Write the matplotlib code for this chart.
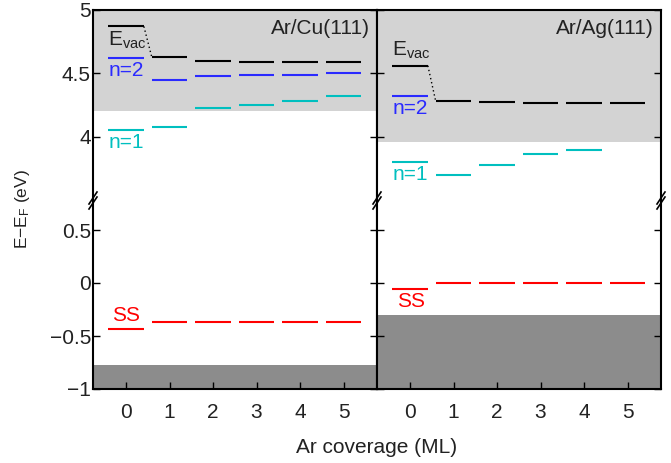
import matplotlib
matplotlib.use("Agg")
import matplotlib.pyplot as plt
from matplotlib.lines import Line2D

plt.rcParams['font.family'] = ['Liberation Sans', 'DejaVu Sans']
plt.rcParams['mathtext.fontset'] = 'custom'
plt.rcParams['mathtext.rm'] = 'Liberation Sans'
plt.rcParams['mathtext.it'] = 'Liberation Sans'
plt.rcParams['axes.unicode_minus'] = True

# ---------------- data ----------------
coverage = [0, 1, 2, 3, 4, 5]
cu_evac = [4.87, 4.63, 4.60, 4.59, 4.59, 4.59]
cu_n2 = [4.62, 4.45, 4.48, 4.485, 4.49, 4.50]
cu_n1 = [4.05, 4.08, 4.23, 4.25, 4.28, 4.32]
cu_ss = [-0.43, -0.37, -0.37, -0.37, -0.37, -0.37]
cu_gap = [4.20, 5.0]
cu_bulk = [-1.0, -0.77]

ag_evac = [4.56, 4.28, 4.275, 4.265, 4.265, 4.265]
ag_n2_cov = [0]
ag_n2 = [4.32]
ag_n1_cov = [0, 1, 2, 3, 4]
ag_n1 = [3.80, 3.70, 3.78, 3.86, 3.895]
ag_ss = [-0.06, 0.0, 0.0, 0.0, 0.0, 0.0]
ag_gap = [3.96, 5.0]
ag_bulk = [-1.0, -0.30]

top_ticks = [4, 4.5, 5]
top_labels = ['4', '4.5', '5']
bot_ticks = [-1, -0.5, 0, 0.5]
bot_labels = ['\u22121', '\u22120.5', '0', '0.5']
x_labels = ['0', '1', '2', '3', '4', '5']

C_EVAC = 'black'
C_N2 = '#2a2aff'
C_N1 = '#00bfbf'
C_SS = '#ff0000'
C_GAP = '#d3d3d3'
C_BULK = '#8c8c8c'
TXT = '#222222'

W, H = 671, 463
fig = plt.figure(figsize=(W / 100, H / 100), dpi=100)

def fx(px):
    return px / W

def fy(py):
    return 1 - py / H

x0L, x1L, x1R = 93, 377, 661
ytop, ybrk, ybot = 10, 201, 389
XLIM = (-0.76, 5.77)
TOP_LIM = (5 - (ybrk - ytop) / 126.7, 5.0)
BOT_LIM = (-1.0, -1.0 + (ybot - ybrk) / 106.0)
HW = 0.41
FS = 15

def make_axes(xa, xb):
    at = fig.add_axes([fx(xa), fy(ybrk), fx(xb - xa), (ybrk - ytop) / H])
    ab = fig.add_axes([fx(xa), fy(ybot), fx(xb - xa), (ybot - ybrk) / H])
    for a in (at, ab):
        a.set_xlim(*XLIM)
        for s in a.spines.values():
            s.set_linewidth(1.5)
        a.tick_params(direction='in', length=5, width=1.0, labelsize=FS,
                      colors='black', labelcolor=TXT, right=True, left=True)
        a.tick_params(axis='y', pad=1.5)
    at.set_ylim(*TOP_LIM)
    ab.set_ylim(*BOT_LIM)
    at.spines['bottom'].set_visible(False)
    ab.spines['top'].set_visible(False)
    at.tick_params(bottom=False, labelbottom=False, top=False)
    ab.tick_params(axis='x', top=False, pad=10)
    at.set_xticks(coverage)
    ab.set_xticks(coverage)
    ab.set_xticklabels(x_labels)
    at.set_yticks(top_ticks)
    ab.set_yticks(bot_ticks)
    return at, ab

def levels(ax, xs, ys, color):
    xs = list(xs)
    ax.hlines(ys, [x - HW for x in xs], [x + HW for x in xs], colors=color, lw=1.5)

def connector(ax, ys):
    ax.plot([coverage[0] + HW, coverage[1] - HW], [ys[0], ys[1]], color='black',
            lw=1.0, ls=(0, (1, 2)))

# ----- left: Ar/Cu(111)
atL, abL = make_axes(x0L, x1L)
atL.axhspan(cu_gap[0], cu_gap[1], color=C_GAP, lw=0, zorder=0)
abL.axhspan(cu_bulk[0], cu_bulk[1], color=C_BULK, lw=0, zorder=0)
levels(atL, coverage, cu_evac, C_EVAC)
levels(atL, coverage, cu_n2, C_N2)
levels(atL, coverage, cu_n1, C_N1)
levels(abL, coverage, cu_ss, C_SS)
connector(atL, cu_evac)
atL.set_yticklabels(top_labels)
abL.set_yticklabels(bot_labels)
atL.tick_params(labelright=False)
abL.tick_params(labelright=False)
atL.text(-0.41, cu_evac[0] - 0.025, 'E$_{\\rm vac}$', color=TXT, fontsize=FS, va='top', ha='left')
atL.text(-0.41, cu_n2[0] - 0.02, 'n=2', color=C_N2, fontsize=FS, va='top', ha='left')
atL.text(-0.41, cu_n1[0] - 0.02, 'n=1', color=C_N1, fontsize=FS, va='top', ha='left')
abL.text(-0.32, cu_ss[0] + 0.035, 'SS', color=C_SS, fontsize=FS, va='bottom', ha='left')
atL.text(0.975, 0.955, 'Ar/Cu(111)', transform=atL.transAxes, ha='right', va='top',
         fontsize=FS, color=TXT)

# ----- right: Ar/Ag(111)
atR, abR = make_axes(x1L, x1R)
atR.axhspan(ag_gap[0], ag_gap[1], color=C_GAP, lw=0, zorder=0)
abR.axhspan(ag_bulk[0], ag_bulk[1], color=C_BULK, lw=0, zorder=0)
levels(atR, coverage, ag_evac, C_EVAC)
levels(atR, ag_n2_cov, ag_n2, C_N2)
levels(atR, ag_n1_cov, ag_n1, C_N1)
levels(abR, coverage, ag_ss, C_SS)
connector(atR, ag_evac)
atR.tick_params(labelleft=False, labelright=False)
abR.tick_params(labelleft=False, labelright=False)
atR.text(-0.41, ag_evac[0] + 0.035, 'E$_{\\rm vac}$', color=TXT, fontsize=FS, va='bottom', ha='left')
atR.text(-0.41, ag_n2[0] - 0.02, 'n=2', color=C_N2, fontsize=FS, va='top', ha='left')
atR.text(-0.41, ag_n1[0] - 0.02, 'n=1', color=C_N1, fontsize=FS, va='top', ha='left')
abR.text(-0.3, ag_ss[0] - 0.025, 'SS', color=C_SS, fontsize=FS, va='top', ha='left')
atR.text(0.975, 0.955, 'Ar/Ag(111)', transform=atR.transAxes, ha='right', va='top',
         fontsize=FS, color=TXT)

# ----- axis break marks
for xp in (x0L, x1L, x1R):
    for dy in (-3, 2):
        fig.add_artist(Line2D([fx(xp - 4), fx(xp + 4)],
                              [fy(ybrk + dy + 6), fy(ybrk + dy - 6)],
                              color='black', lw=1.2))

# ----- axis labels
fig.text(fx(377), fy(453), 'Ar coverage (ML)', ha='center', va='baseline', fontsize=FS, color=TXT)
fig.text(fx(23), fy(209), 'E\u2212E$_{\\rm F}$ (eV)', ha='center', va='center', rotation=90,
         fontsize=12.5, color=TXT)

fig.savefig('out.png', dpi=100)
